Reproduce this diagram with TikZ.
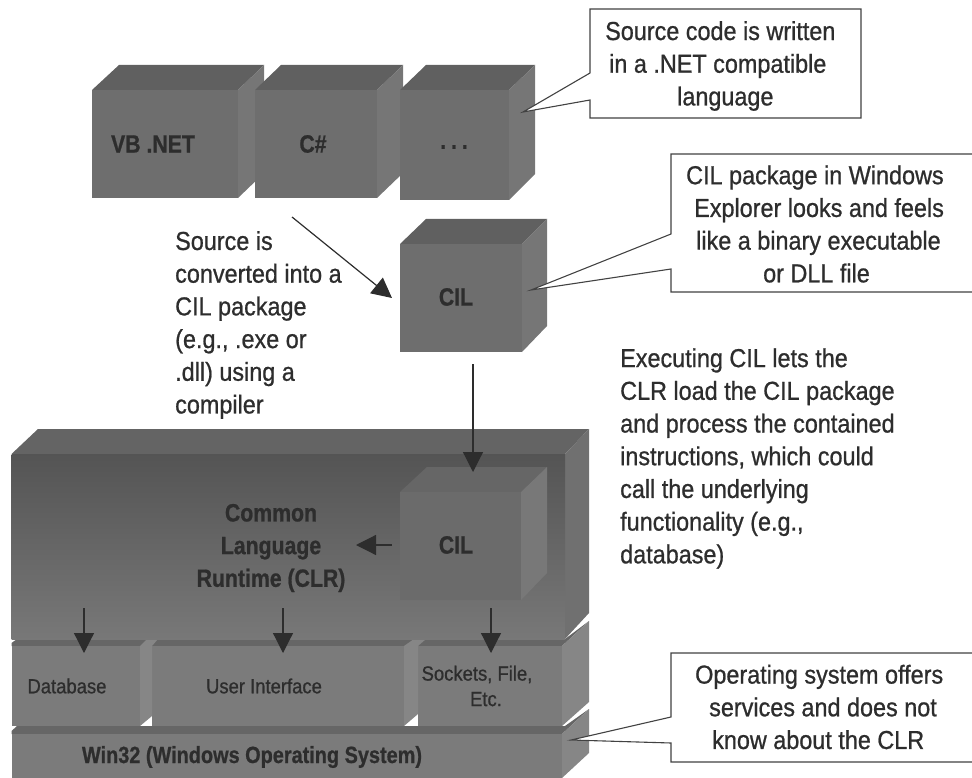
\documentclass[tikz,border=0pt]{standalone}
\usepackage{fontspec}
\setmainfont[FakeStretch=0.9,FakeBold=0.8,BoldFont={Liberation Sans Bold},BoldFeatures={FakeStretch=0.85}]{Liberation Sans}
\usetikzlibrary{arrows.meta}
\definecolor{ink}{HTML}{2D2D2D}
\definecolor{frontc}{HTML}{6E6E6E}
\definecolor{topc}{HTML}{606060}
\definecolor{sidec}{HTML}{767676}
\definecolor{clrside}{HTML}{707070}
\definecolor{clrtop}{HTML}{646464}
\definecolor{rowfront}{HTML}{7B7B7B}
\definecolor{rowside}{HTML}{868686}
\definecolor{rowtop}{HTML}{666666}
\tikzset{
  x=1pt,y=-1pt,
  face/.style={anchor=north west,inner sep=0pt,outer sep=0pt,draw=none},
  frontface/.style={face,fill=frontc},
  rowface/.style={face,fill=rowfront},
  conn/.style={draw=ink,line width=1.2pt,-{Triangle[length=20pt,width=20pt]}},
  callout/.style={draw=ink!90,line width=1.1pt,fill=white,line join=miter},
  note/.style={anchor=west,align=left,inner sep=0pt,text=ink,font=\fontsize{26}{32.7}\selectfont},
  boxlabel/.style={inner sep=0pt,text=ink,font=\fontsize{25}{32.7}\selectfont\bfseries},
  rowlabel/.style={inner sep=0pt,text=ink,font=\fontsize{20.5}{25.5}\selectfont},
}
\begin{document}
\begin{tikzpicture}
\useasboundingbox (0,0) rectangle (972,778);
% VB .NET cube
\fill[topc] (92,90)--(119,65)--(264,65)--(238,90)--cycle;
\fill[sidec] (238,90)--(264,65)--(264,173)--(238,198)--cycle;
\node[frontface,minimum width=146pt,minimum height=108pt] (vb) at (92,90) {};
% C# cube
\fill[topc] (255,90)--(281,65)--(403,65)--(377,90)--cycle;
\fill[sidec] (377,90)--(403,65)--(403,173)--(377,198)--cycle;
\node[frontface,minimum width=122pt,minimum height=108pt] (cs) at (255,90) {};
% ... cube
\fill[topc] (400,90)--(426,65)--(535,65)--(509,90)--cycle;
\fill[sidec] (509,90)--(535,65)--(535,174)--(509,200)--cycle;
\node[frontface,minimum width=109pt,minimum height=110pt] (dots) at (400,90) {};
% CIL cube
\fill[topc] (400,244)--(426,219)--(547,219)--(522,244)--cycle;
\fill[sidec] (522,244)--(547,219)--(547,326)--(522,352)--cycle;
\node[frontface,minimum width=122pt,minimum height=108pt] (cil) at (400,244) {};
% Win32 layer
\fill[rowtop] (11.5,734)--(11.5,731)--(17,726)--(565,726)--(589,709)--(562,734)--cycle;
\fill[rowside] (562,734)--(589,709)--(589,753)--(562,778)--cycle;
\node[rowface,minimum width=550.5pt,minimum height=44pt] (win) at (11.5,734) {};
% services layer
\fill[rowtop] (11.5,646)--(11.5,643)--(17,639)--(565,639)--(589,621)--(562,646)--cycle;
\fill[rowside] (562,646)--(589,621)--(589,702)--(562,726)--cycle;
\node[rowface,minimum width=128.5pt,minimum height=80pt] (db) at (11.5,646) {};
\node[rowface,minimum width=252pt,minimum height=80pt] (ui) at (152,646) {};
\node[rowface,minimum width=144pt,minimum height=80pt] (sock) at (418,646) {};
\fill[rowside] (140,646)--(147,639)--(158,639)--(152,646)--(152,716)--(140,726)--cycle;
\fill[rowside] (404,646)--(414,639)--(426,639)--(418,646)--(418,714)--(404,726)--cycle;
% CLR block
\fill[clrtop] (11.5,454)--(38,429)--(589,429)--(565,454)--cycle;
\fill[clrside] (565,454)--(589,429)--(589,613)--(565,639)--cycle;
\shade[top color=black!67,bottom color=black!53] (11.5,454) rectangle (565,639);
\node[face,minimum width=553.5pt,minimum height=185pt] (clr) at (11.5,454) {};
% inner CIL cube
\fill[black!60] (400,492)--(427,467)--(547,467)--(521,492)--cycle;
\fill[black!53] (521,492)--(547,467)--(547,573)--(521,600)--cycle;
\node[face,fill=black!58,minimum width=121pt,minimum height=108pt] (cilin) at (400,492) {};
% labels in cubes
\node[boxlabel] (vbl) at (153,144) {VB .NET};
\node[boxlabel] (csl) at (313,144) {C\#};
\node[boxlabel,font=\fontsize{25}{32.7}\selectfont\bfseries\addfontfeature{LetterSpace=20}] (dotl) at (454,147) {...};
\node[boxlabel] (cill) at (456,297) {CIL};
\node[boxlabel] (cilil) at (456,545) {CIL};
\node[boxlabel,align=center] (clrl) at (271,548) {Common\\Language\\Runtime (CLR)};
\node[rowlabel] (dbl) at (67,686) {Database};
\node[rowlabel] (uil) at (264,686) {User Interface};
\node[rowlabel,align=center] (sockl) at (477,686) {Sockets, File,\\\hspace*{18pt}Etc.};
\node[boxlabel,font=\fontsize{23.4}{28}\selectfont\bfseries] (winl) at (252,757) {Win32 (Windows Operating System)};
% connectors
\coordinate (a1) at (292,217); \coordinate (a2) at (392,298);
\draw[conn] (a1)--(a2);
\coordinate (b1) at (473,364); \coordinate (b2) at (473,472);
\draw[conn] (b1)--(b2);
\coordinate (c1) at (391.5,545); \coordinate (c2) at (356,545);
\draw[conn] (c1)--(c2);
\coordinate (d1) at (84,608); \coordinate (d2) at (84,653);
\draw[conn] (d1)--(d2);
\coordinate (e1) at (283,608); \coordinate (e2) at (283,653);
\draw[conn] (e1)--(e2);
\coordinate (f1) at (491,608); \coordinate (f2) at (491,653);
\draw[conn] (f1)--(f2);
% callouts
\coordinate (t1) at (523,112);
\draw[callout] (590,9)--(861,9)--(861,118)--(590,118)--(590,100)--(t1)--(590,73)--cycle;
\coordinate (t2) at (531,290);
\fill[white] (671,154) rectangle (972,292);
\draw[callout] (972,154)--(671,154)--(671,234)--(t2)--(671,269)--(671,292)--(972,292);
\coordinate (t3) at (571,740);
\fill[white] (671,653) rectangle (972,762);
\draw[callout] (972,653)--(671,653)--(671,717)--(t3)--(671,743)--(671,762)--(972,762);
% notes
\node[note] (n1) at (605,66) {Source code is written\\\hspace*{4pt}in a .NET compatible\\\hspace*{72pt}language};
\node[note] (n2) at (686,224) {CIL package in Windows\\\hspace*{8pt}Explorer looks and feels\\\hspace*{10pt}like a binary executable\\\hspace*{77pt}or DLL file};
\node[note] (n3) at (695,707) {Operating system offers\\\hspace*{14pt}services and does not\\\hspace*{17pt}know about the CLR};
\node[note] (n4) at (175,325) {Source is\\converted into a\\CIL package\\(e.g., .exe or\\.dll) using a\\compiler};
\node[note] (n5) at (620,458.5) {Executing CIL lets the\\CLR load the CIL package\\and process the contained\\instructions, which could\\call the underlying\\functionality (e.g.,\\database)};
\end{tikzpicture}
\end{document}
